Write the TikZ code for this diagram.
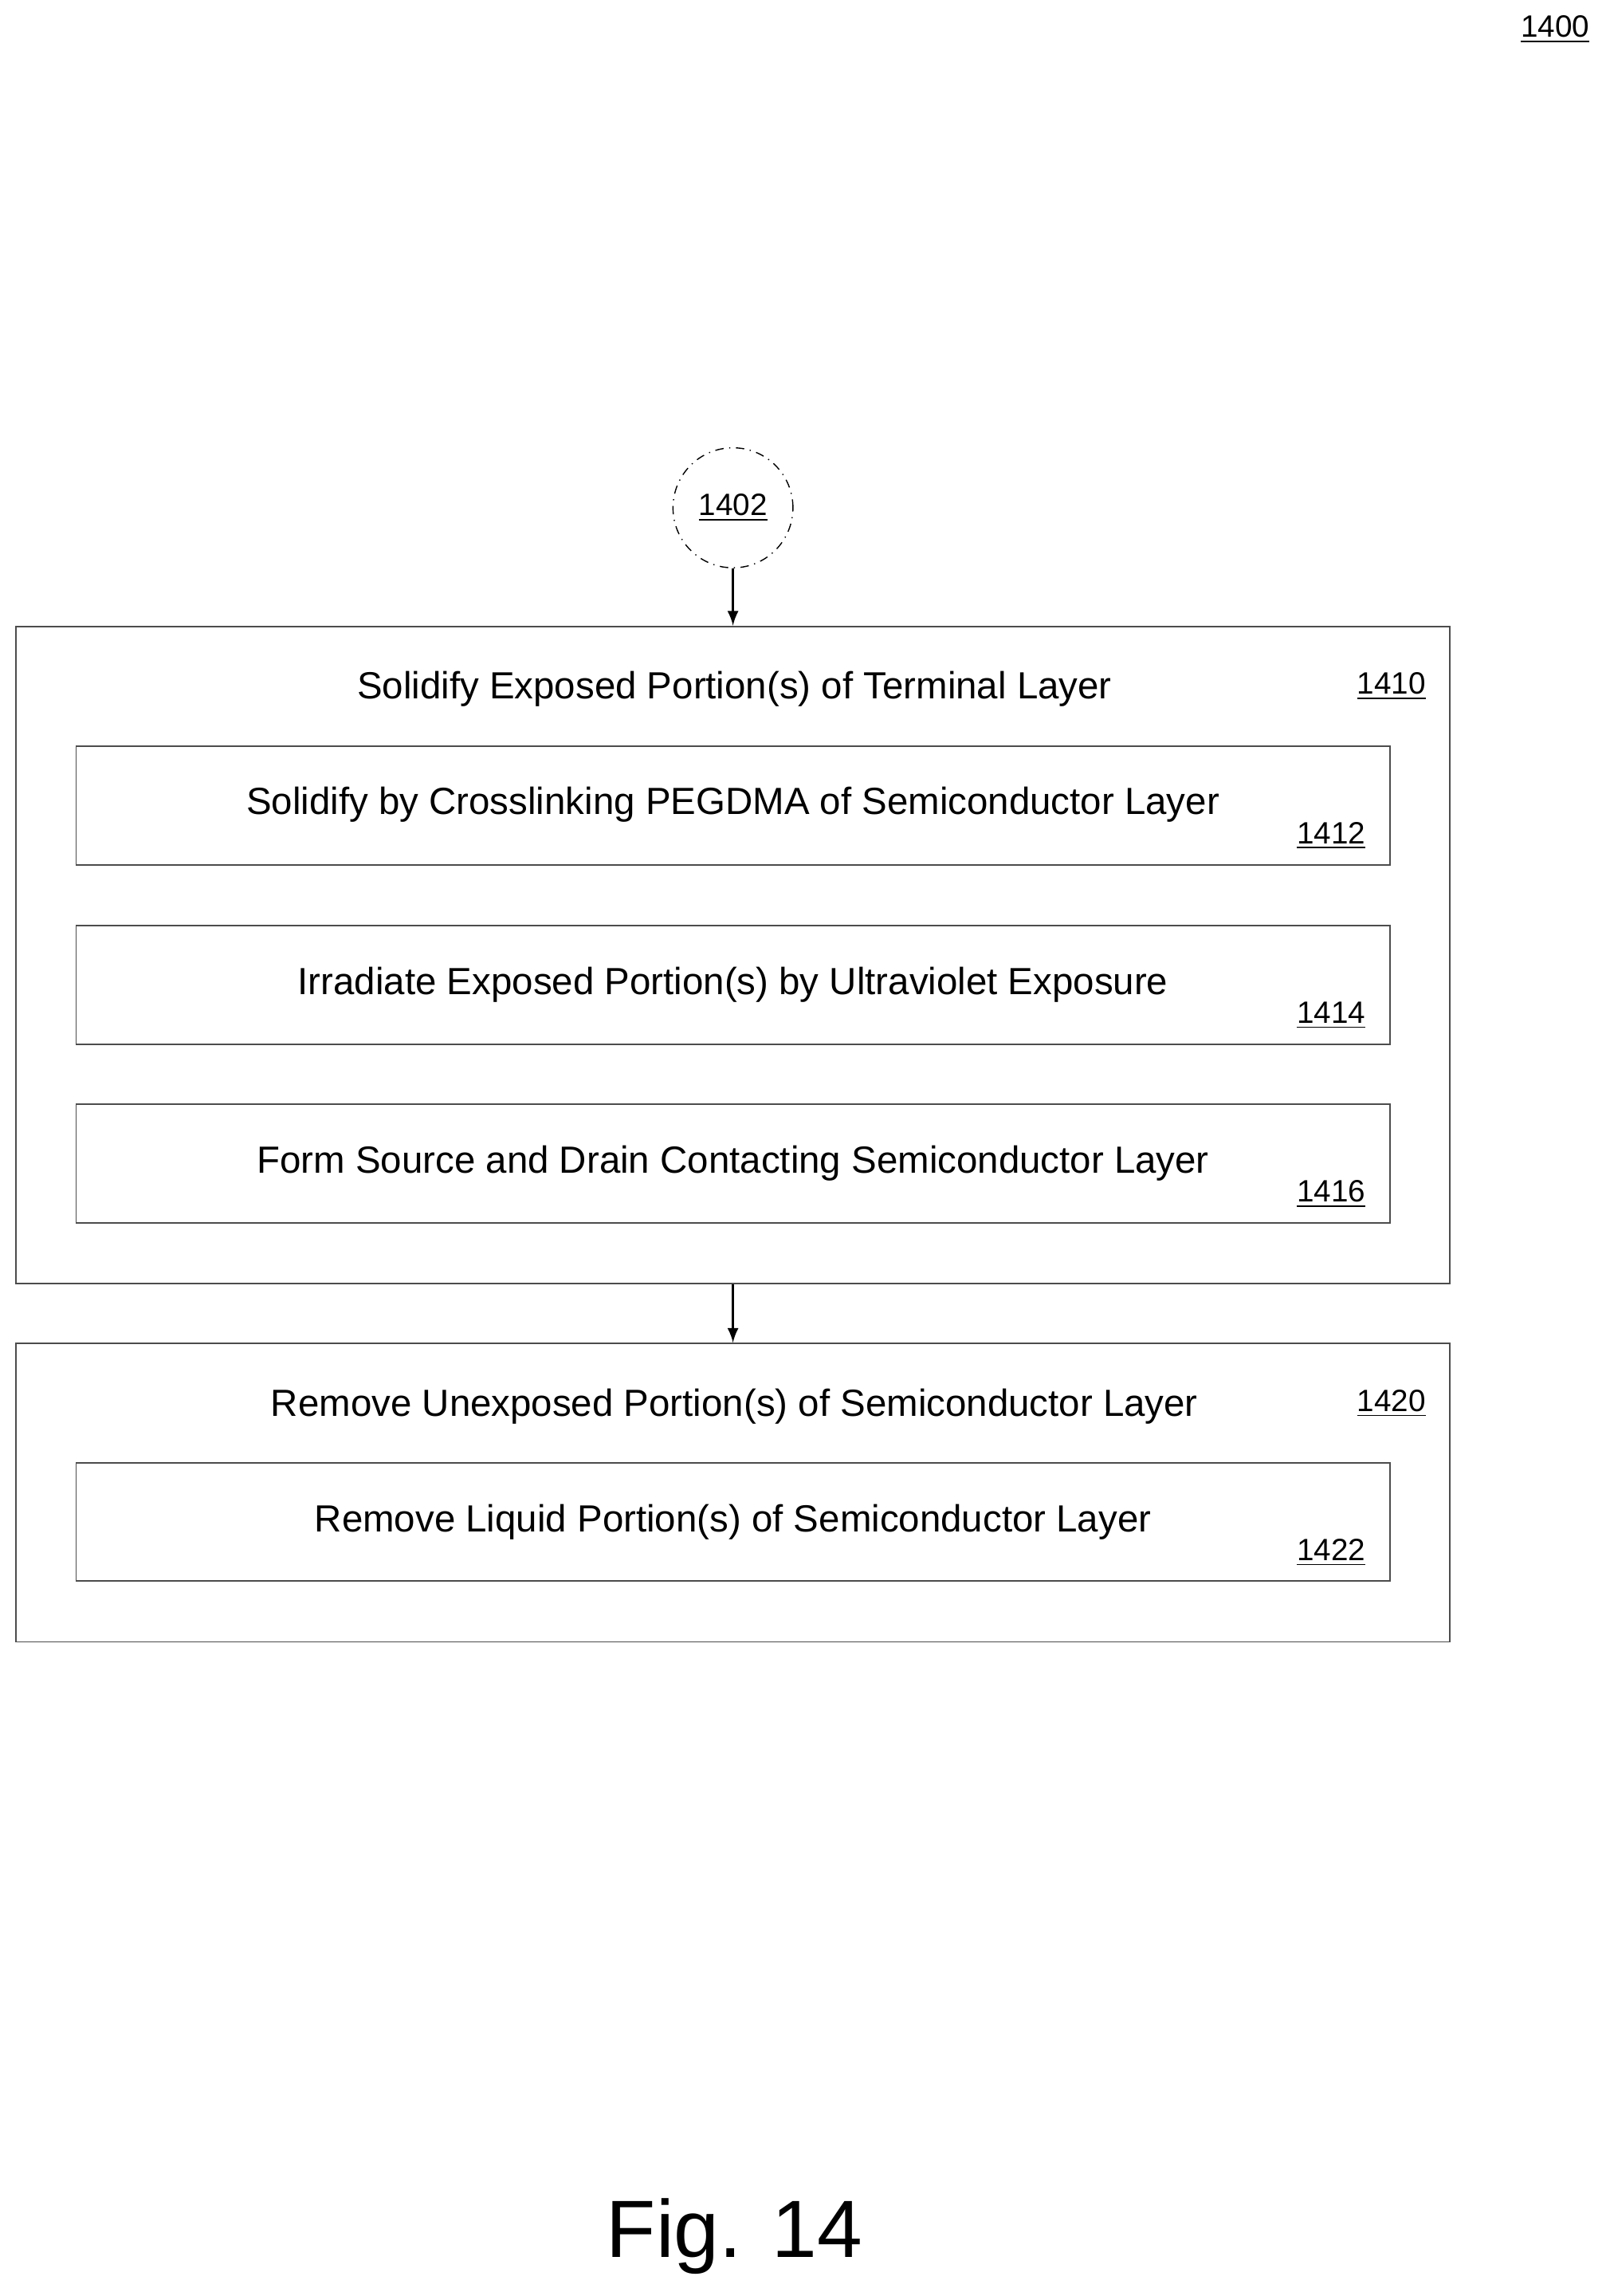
\documentclass[tikz,border=0pt]{standalone}
\usepackage{fontspec}
\setmainfont{Liberation Sans}
\usetikzlibrary{positioning}
\begin{document}
\begin{tikzpicture}[
        x=0.01835cm, y=-0.01835cm,
        box/.style = {draw=black!70, line width=0.5pt, minimum width=980*0.01835cm, inner sep=0pt}, % outer steps
        sub/.style = {draw=black!70, line width=0.5pt, minimum width=898*0.01835cm, minimum height=81*0.01835cm, inner sep=0pt},
        txt/.style = {font=\fontsize{13.5}{16}\selectfont},
        ref/.style = {font=\fontsize{11}{13}\selectfont},
        flow/.style = {draw, line width=0.8pt, -latex},
    ]
    \useasboundingbox (0,0) rectangle (1100,1569);

    \node[ref] (n1400) at (1063,20) {\underline{1400}};

    % start connector
    \node[circle, draw, dash dot, line width=0.4pt, minimum size=82*0.01835cm, ref] (c1402) at (501,347) {\underline{1402}};

    % step 1410
    \node[box, minimum height=449*0.01835cm] (b1410) at (501,652.5) {};
    \node[txt] (t1410) at (502,471) {Solidify Exposed Portion(s) of Terminal Layer};
    \node[ref] (r1410) at (951,469) {\underline{1410}};

    \node[sub] (b1412) at (501,550.5) {};
    \node[txt] (t1412) at (501,550) {Solidify by Crosslinking PEGDMA of Semiconductor Layer};
    \node[ref] (r1412) at (910,571) {\underline{1412}};

    \node[sub] (b1414) at (501,673) {};
    \node[txt] (t1414) at (501,673) {Irradiate Exposed Portion(s) by Ultraviolet Exposure};
    \node[ref] (r1414) at (910,694) {\underline{1414}};

    \node[sub] (b1416) at (501,795) {};
    \node[txt] (t1416) at (501,795) {Form Source and Drain Contacting Semiconductor Layer};
    \node[ref] (r1416) at (910,816) {\underline{1416}};

    % step 1420
    \node[box, minimum height=204*0.01835cm] (b1420) at (501,1020) {};
    \node[txt] (t1420) at (502,961) {Remove Unexposed Portion(s) of Semiconductor Layer};
    \node[ref] (r1420) at (951,959) {\underline{1420}};

    \node[sub] (b1422) at (501,1040) {};
    \node[txt] (t1422) at (501,1040) {Remove Liquid Portion(s) of Semiconductor Layer};
    \node[ref] (r1422) at (910,1061) {\underline{1422}};

    \draw[flow] (c1402) -- (b1410);
    \draw[flow] (b1410) -- (b1420);

    \node[font=\fontsize{29}{34}\selectfont] (fig) at (502,1528) {Fig. 14};
\end{tikzpicture}
\end{document}
